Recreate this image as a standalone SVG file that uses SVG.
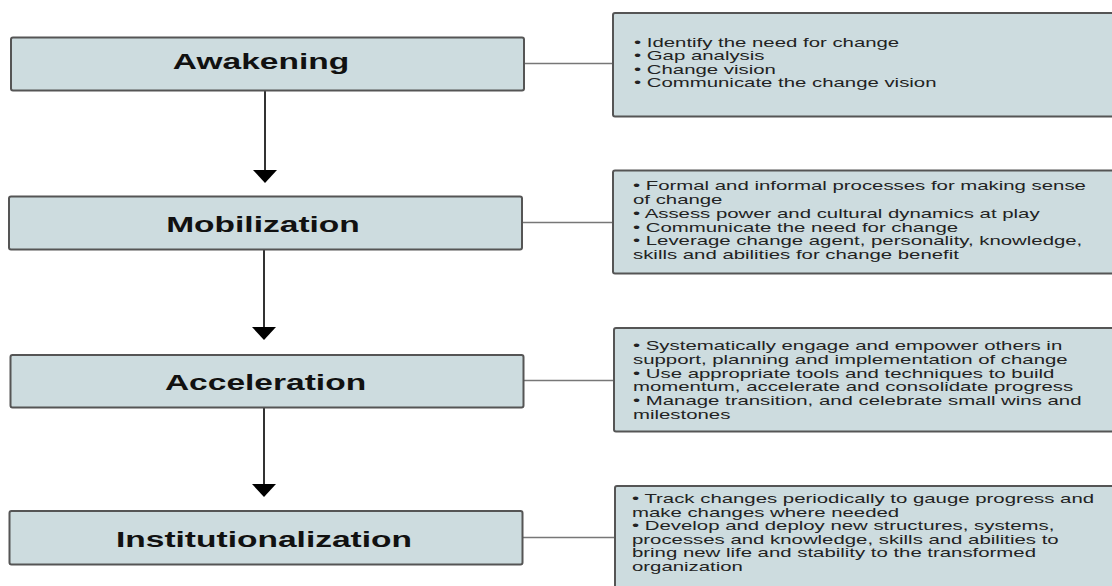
<svg xmlns="http://www.w3.org/2000/svg" width="1112" height="586" viewBox="0 0 1112 586">
<defs>
<style>
.stage rect{fill:#cddcdf;stroke:#555;stroke-width:2}
.stage text{font-family:"Liberation Sans",Arial,sans-serif;font-weight:bold;font-size:21.5px;fill:#111;text-anchor:middle}
.note rect{fill:#cddcdf;stroke:#555;stroke-width:2}
.note text{font-family:"Liberation Sans",Arial,sans-serif;font-size:13.5px;fill:#222}
.link{stroke:#777;stroke-width:1.5;fill:none}
.flow{stroke:#333;stroke-width:2;fill:none}
</style>
</defs>
<rect width="1112" height="586" fill="#fff"/>

<g id="connectors">
<line class="flow" x1="265" y1="91" x2="265" y2="170"/>
<path d="M253,170 L277,170 L265,183 Z" fill="#000"/>
<line class="flow" x1="264" y1="250" x2="264" y2="327"/>
<path d="M252,327 L276,327 L264,340 Z" fill="#000"/>
<line class="flow" x1="264" y1="408" x2="264" y2="484"/>
<path d="M252,484 L276,484 L264,497 Z" fill="#000"/>
<line class="link" x1="524" y1="63.5" x2="613" y2="63.5"/>
<line class="link" x1="522" y1="222.5" x2="613" y2="222.5"/>
<line class="link" x1="523" y1="380.5" x2="614" y2="380.5"/>
<line class="link" x1="522" y1="537.5" x2="615" y2="537.5"/>
</g>

<g id="awakening" class="stage">
<rect x="11" y="37.5" width="513" height="53" rx="2"/>
<text transform="translate(261,69) scale(1.56,1)" x="0" y="0">Awakening</text>
</g>
<g id="mobilization" class="stage">
<rect x="9" y="196.5" width="513" height="53" rx="2"/>
<text transform="translate(263,231.5) scale(1.56,1)" x="0" y="0">Mobilization</text>
</g>
<g id="acceleration" class="stage">
<rect x="10.5" y="355" width="513" height="52.5" rx="2"/>
<text transform="translate(265.5,389.5) scale(1.56,1)" x="0" y="0">Acceleration</text>
</g>
<g id="institutionalization" class="stage">
<rect x="9.5" y="511" width="513" height="53.5" rx="2"/>
<text transform="translate(264,546.5) scale(1.56,1)" x="0" y="0">Institutionalization</text>
</g>

<g id="awakening-notes" class="note">
<rect x="613" y="13" width="510" height="103.5" rx="2"/>
<text transform="translate(634,0) scale(1.51,1)">
<tspan x="0" y="47">• Identify the need for change</tspan>
<tspan x="0" y="60.5">• Gap analysis</tspan>
<tspan x="0" y="74">• Change vision</tspan>
<tspan x="0" y="87.5">• Communicate the change vision</tspan>
</text>
</g>
<g id="mobilization-notes" class="note">
<rect x="613" y="170.5" width="510" height="103" rx="2"/>
<text transform="translate(633,0) scale(1.51,1)">
<tspan x="0" y="190.5">• Formal and informal processes for making sense</tspan>
<tspan x="0" y="204.2">of change</tspan>
<tspan x="0" y="217.9">• Assess power and cultural dynamics at play</tspan>
<tspan x="0" y="231.6">• Communicate the need for change</tspan>
<tspan x="0" y="245.3">• Leverage change agent, personality, knowledge,</tspan>
<tspan x="0" y="259">skills and abilities for change benefit</tspan>
</text>
</g>
<g id="acceleration-notes" class="note">
<rect x="614" y="328" width="510" height="103.5" rx="2"/>
<text transform="translate(633,0) scale(1.51,1)">
<tspan x="0" y="350">• Systematically engage and empower others in</tspan>
<tspan x="0" y="363.8">support, planning and implementation of change</tspan>
<tspan x="0" y="377.6">• Use appropriate tools and techniques to build</tspan>
<tspan x="0" y="391.4">momentum, accelerate and consolidate progress</tspan>
<tspan x="0" y="405.2">• Manage transition, and celebrate small wins and</tspan>
<tspan x="0" y="419">milestones</tspan>
</text>
</g>
<g id="institutionalization-notes" class="note">
<rect x="615" y="486" width="510" height="110" rx="2"/>
<text transform="translate(632,0) scale(1.51,1)">
<tspan x="0" y="503.5">• Track changes periodically to gauge progress and</tspan>
<tspan x="0" y="517">make changes where needed</tspan>
<tspan x="0" y="530.5">• Develop and deploy new structures, systems,</tspan>
<tspan x="0" y="544">processes and knowledge, skills and abilities to</tspan>
<tspan x="0" y="557.5">bring new life and stability to the transformed</tspan>
<tspan x="0" y="571">organization</tspan>
</text>
</g>
</svg>
